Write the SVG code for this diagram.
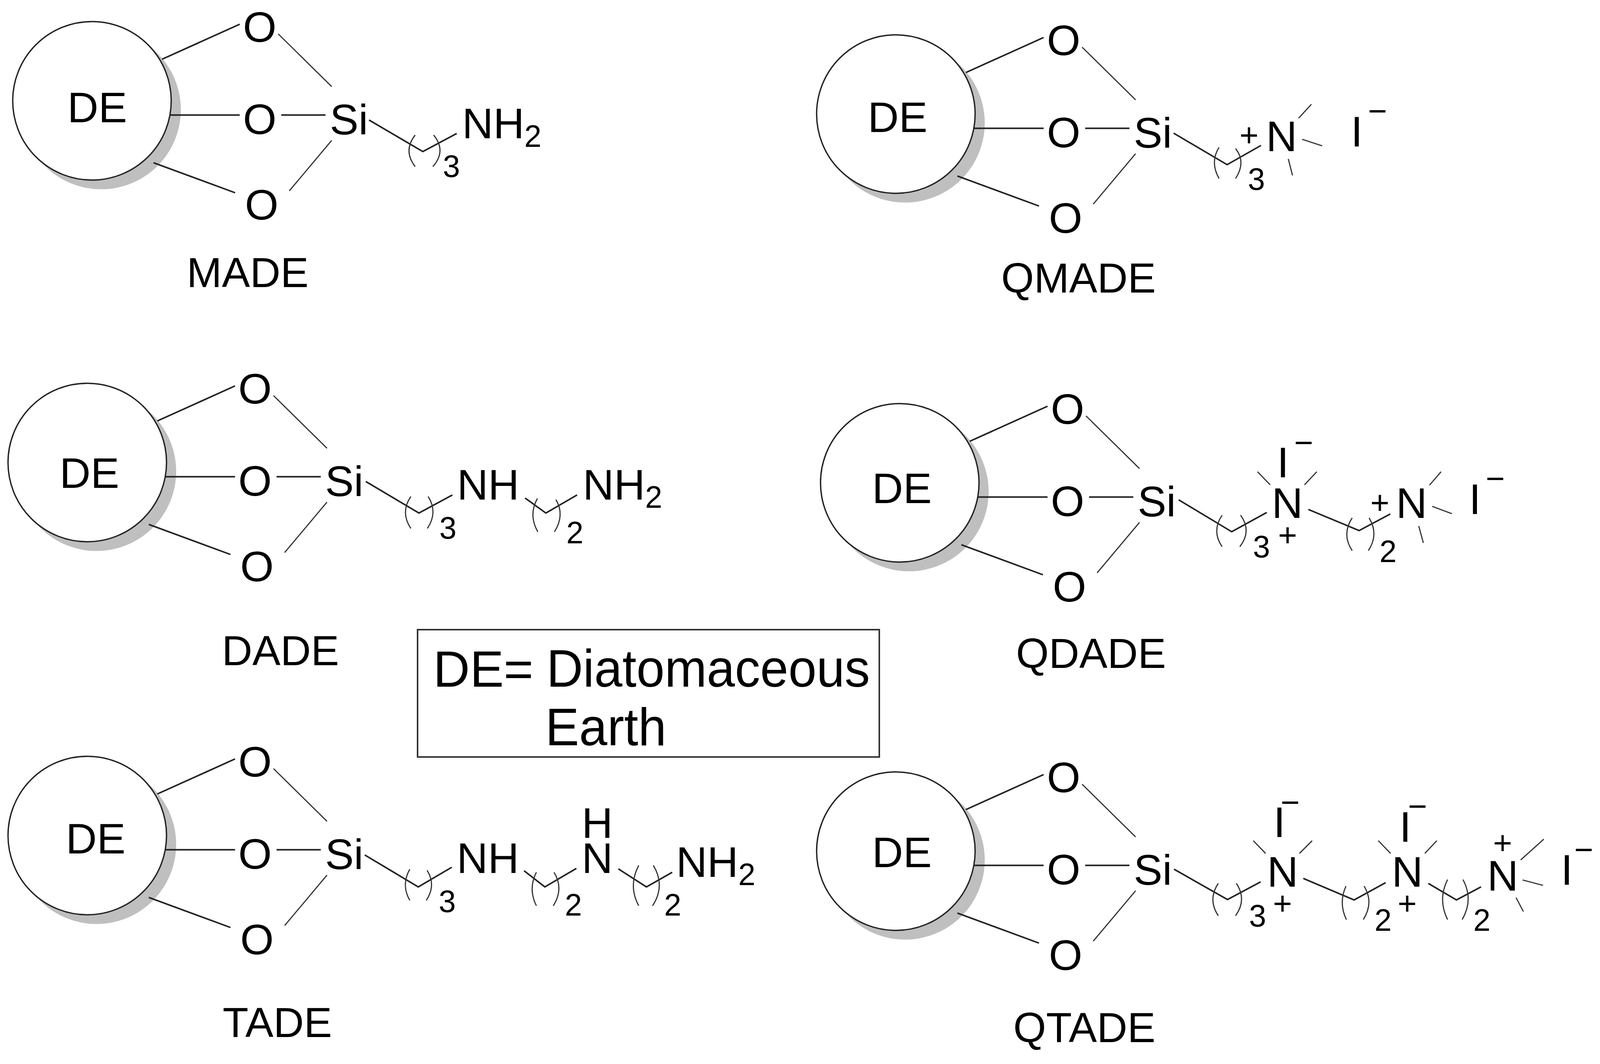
<svg xmlns="http://www.w3.org/2000/svg" width="4135" height="2724" viewBox="0 0 4135 2724">
<style>
text{font-family:"Liberation Sans",Arial,sans-serif;fill:#000;font-size:112px}
.m{text-anchor:middle}
.de{font-size:110px;text-anchor:middle}
.lab{font-size:108px;text-anchor:middle}
.s{font-size:80px}
.c{font-size:85px;text-anchor:middle}
.leg{font-size:135px}
.b{stroke:#222;stroke-width:4;fill:none;stroke-linecap:butt;stroke-linejoin:miter}
.t{stroke:#333;stroke-width:3;fill:none}
</style>
<defs>
<g id="ball">
<circle cx="263" cy="285" r="207" fill="#bfbfbf"/>
<circle cx="239" cy="262" r="206" fill="#fff" stroke="#222" stroke-width="3.5"/>
</g>
<g id="bonds">
<line class="b" x1="421" y1="154" x2="623" y2="63"/>
<line class="t" x1="723" y1="88" x2="862" y2="225"/>
<line class="b" x1="442" y1="299" x2="623" y2="299"/>
<line class="b" x1="731" y1="299" x2="846" y2="299"/>
<line class="b" x1="399" y1="423" x2="611" y2="501"/>
<line class="t" x1="752" y1="496" x2="862" y2="365"/>
</g>
</defs>
<rect width="4135" height="2724" fill="#fff"/>

<g id="node-made">
<g transform="matrix(.985 0 0 .985 0 0)">
<use href="#ball"/>
<text class="m" x="675" y="109">O</text><text class="m" x="675" y="348">O</text><text class="m" x="680" y="571">O</text>
<text x="857" y="349">Si</text>
<text x="1201" y="359">NH<tspan class="s" dy="23">2</tspan></text>
<text class="s" x="1151" y="460">3</text>
</g>
<text class="de" x="249" y="313">DE</text>
<text class="lab" x="634" y="735">MADE</text>
</g>

<g id="node-qmade">
<g transform="matrix(.985 0 0 .985 2058 34)">
<use href="#ball"/>
<text class="m" x="675" y="109">O</text><text class="m" x="675" y="348">O</text><text class="m" x="680" y="571">O</text><text x="857" y="349">Si</text>
</g>
<text class="de" x="2298" y="338">DE</text>
<g transform="matrix(.985 0 0 .985 15 1)">
<text class="c" x="3231" y="379">+</text>
<text x="3275" y="392">N</text>
<text class="s" x="3228" y="492">3</text>
<text class="m" x="3511" y="380">I</text>
<text class="c" x="3565" y="317">−</text>
</g>
<text class="lab" x="2761" y="749">QMADE</text>
</g>

<g id="node-dade">
<g transform="matrix(.985 0 0 .985 -12 926)">
<use href="#ball"/>
<text class="m" x="675" y="109">O</text><text class="m" x="675" y="348">O</text><text class="m" x="680" y="571">O</text><text x="857" y="349">Si</text>
</g>
<text class="de" x="229" y="1249">DE</text>
<g transform="matrix(.985 0 0 .985 4.7 6.4)">
<text x="1183" y="1292">NH</text>
<text class="s" x="1137" y="1394">3</text>
<text class="s" x="1467" y="1406">2</text>
<text x="1510" y="1292">NH<tspan class="s" dy="21">2</tspan></text>
</g>
<text class="lab" x="718" y="1703">DADE</text>
</g>

<g id="node-qdade">
<g transform="matrix(.985 0 0 .985 2068 978)">
<use href="#ball"/>
<text class="m" x="675" y="109">O</text><text class="m" x="675" y="348">O</text><text class="m" x="680" y="571">O</text><text x="857" y="349">Si</text>
</g>
<text class="de" x="2309" y="1288">DE</text>
<g transform="matrix(.985 0 0 .985 18 4)">
<text class="m" x="3316" y="1237">I</text>
<text class="c" x="3370" y="1176">−</text>
<text x="3287" y="1342">N</text>
<text class="c" x="3328" y="1415">+</text>
<text class="s" x="3238" y="1445">3</text>
<text class="s" x="3567" y="1457">2</text>
<text class="c" x="3568" y="1331">+</text>
<text x="3610" y="1342">N</text>
<text class="m" x="3815" y="1332">I</text>
<text class="c" x="3868" y="1269">−</text>
</g>
<text class="lab" x="2793" y="1710">QDADE</text>
</g>

<g id="node-tade">
<g transform="matrix(.985 0 0 .985 -12 1881)">
<use href="#ball"/>
<text class="m" x="675" y="109">O</text><text class="m" x="675" y="348">O</text><text class="m" x="680" y="571">O</text><text x="857" y="349">Si</text>
</g>
<text class="de" x="245" y="2185">DE</text>
<g transform="matrix(.985 0 0 .985 2 12)">
<text x="1185" y="2257">NH</text>
<text class="s" x="1138" y="2358">3</text>
<text x="1510" y="2165">H</text>
<text x="1510" y="2257">N</text>
<text class="s" x="1466" y="2368">2</text>
<text class="s" x="1724" y="2368">2</text>
<text x="1755" y="2267">NH<tspan class="s" dy="21">2</tspan></text>
</g>
<text class="lab" x="710" y="2655">TADE</text>
</g>

<g id="node-qtade">
<g transform="matrix(.985 0 0 .985 2058 1921)">
<use href="#ball"/>
<text class="m" x="675" y="109">O</text><text class="m" x="675" y="348">O</text><text class="m" x="680" y="571">O</text><text x="857" y="349">Si</text>
</g>
<text class="de" x="2309" y="2220">DE</text>
<g transform="matrix(.985 0 0 .985 16 8)">
<text class="m" x="3309" y="2168">I</text>
<text class="c" x="3337" y="2107">−</text>
<text x="3277" y="2296">N</text>
<text class="c" x="3317" y="2369">+</text>
<text class="s" x="3230" y="2400">3</text>
<text class="m" x="3636" y="2180">I</text>
<text class="c" x="3668" y="2117">−</text>
<text x="3601" y="2296">N</text>
<text class="c" x="3641" y="2369">+</text>
<text class="s" x="3556" y="2411">2</text>
<text class="s" x="3813" y="2411">2</text>
<text class="c" x="3889" y="2211">+</text>
<text x="3849" y="2307">N</text>
<text class="m" x="4056" y="2291">I</text>
<text class="c" x="4100" y="2229">−</text>
</g>
<text class="lab" x="2776" y="2668">QTADE</text>
</g>

<g id="node-legend">
<rect x="1069" y="1612" width="1182" height="326" fill="#fff" stroke="#333" stroke-width="4"/>
<text class="leg" y="1758"><tspan x="1109" font-size="130">DE= </tspan><tspan x="1399" textLength="828" lengthAdjust="spacingAndGlyphs">Diatomaceous</tspan></text>
<text class="leg" x="1396" y="1908" textLength="310" lengthAdjust="spacingAndGlyphs">Earth</text>
</g>

<g id="connectors">
<g transform="matrix(.985 0 0 .985 0 0)"><use href="#bonds"/>
<polyline class="b" points="959,312 1099,394 1187,347"/>
<path class="t" d="M1079 351Q1047 392 1079 433M1127 351Q1161 392 1125 433"/>
</g>
<use href="#bonds" transform="matrix(.985 0 0 .985 2058 34)"/>
<use href="#bonds" transform="matrix(.985 0 0 .985 -12 926)"/>
<use href="#bonds" transform="matrix(.985 0 0 .985 2068 978)"/>
<use href="#bonds" transform="matrix(.985 0 0 .985 -12 1881)"/>
<use href="#bonds" transform="matrix(.985 0 0 .985 2058 1921)"/>
<g transform="matrix(.985 0 0 .985 15 1)">
<polyline class="b" points="3035,345 3174,427 3262,377"/>
<path class="t" d="M3153 382Q3129 420 3153 463M3196 385Q3224 420 3196 463"/>
<path class="t" d="M3393 270L3360 306M3369 361L3421 378M3333 412L3344 455"/>
</g>
<g transform="matrix(.985 0 0 .985 4.7 6.4)">
<polyline class="b" points="946,1245 1084,1327 1171,1280"/>
<path class="t" d="M1063 1284Q1035 1325 1063 1367M1108 1284Q1134 1325 1106 1367"/>
<polyline class="b" points="1360,1288 1414,1327 1495,1280"/>
<path class="t" d="M1392 1289Q1368 1332 1393 1376M1440 1292Q1464 1332 1436 1376"/>
</g>
<g transform="matrix(.985 0 0 .985 18 4)">
<polyline class="b" points="3045,1295 3183,1378 3274,1328"/>
<path class="t" d="M3158 1335Q3130 1376 3158 1417M3206 1335Q3236 1376 3204 1417"/>
<path class="t" d="M3250 1222L3283 1256M3404 1222L3372 1256"/>
<polyline class="b" points="3382,1320 3514,1375 3595,1332"/>
<path class="t" d="M3496 1342Q3468 1385 3496 1427M3540 1342Q3566 1385 3538 1427"/>
<path class="t" d="M3727 1222L3697 1257M3704 1312L3755 1331M3669 1363L3681 1407"/>
</g>
<g transform="matrix(.985 0 0 .985 2 12)">
<polyline class="b" points="946,2210 1085,2293 1172,2242"/>
<path class="t" d="M1063 2247Q1040 2288 1063 2328M1108 2250Q1132 2288 1106 2328"/>
<polyline class="b" points="1360,2251 1414,2293 1496,2245"/>
<path class="t" d="M1392 2255Q1370 2298 1392 2342M1438 2255Q1464 2298 1436 2342"/>
<polyline class="b" points="1605,2246 1678,2293 1745,2255"/>
<path class="t" d="M1658 2237Q1630 2290 1658 2342M1696 2237Q1728 2290 1694 2342"/>
</g>
<g transform="matrix(.985 0 0 .985 16 8)">
<polyline class="b" points="3035,2251 3174,2330 3260,2284"/>
<path class="t" d="M3150 2288Q3122 2330 3150 2372M3197 2288Q3225 2330 3195 2372"/>
<path class="t" d="M3241 2177L3273 2210M3394 2177L3361 2210"/>
<polyline class="b" points="3371,2275 3503,2331 3585,2286"/>
<path class="t" d="M3482 2295Q3462 2338 3483 2382M3529 2295Q3555 2338 3527 2382"/>
<path class="t" d="M3566 2177L3598 2210M3718 2177L3687 2210"/>
<polyline class="b" points="3696,2288 3769,2331 3833,2297"/>
<path class="t" d="M3746 2278Q3720 2330 3746 2382M3786 2278Q3814 2330 3784 2382"/>
<path class="t" d="M3996 2173L3936 2227M3941 2279L3994 2293M3924 2325L3943 2361"/>
</g>
</g>
</svg>
